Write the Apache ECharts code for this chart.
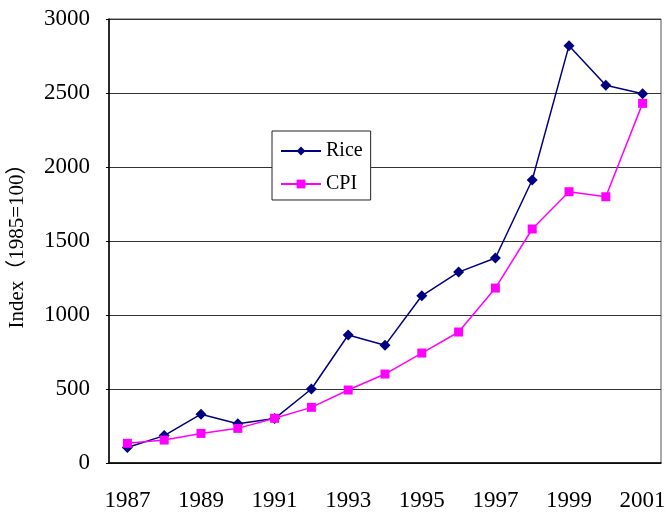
<!DOCTYPE html>
<html><head><meta charset="utf-8">
<script src="https://cdn.jsdelivr.net/npm/echarts@6/dist/echarts.min.js"></script>
<style>html,body{margin:0;padding:0;background:#fff}#c{width:666px;height:516px}</style>
</head><body><div id="c"></div>
<script>
var years = ['1987','1988','1989','1990','1991','1992','1993','1994','1995','1996','1997','1998','1999','2000','2001'];
var rice = [105,185,330,265,300,500,865,795,1130,1290,1385,1912,2820,2552,2495];
var cpi = [133,155,200,234,302,376,493,601,743,885,1182,1581,1833,1799,2430];
var yTicks = [0,500,1000,1500,2000,2500,3000];
var font = "'Liberation Serif','Noto Sans CJK SC',serif";
var chart = echarts.init(document.getElementById('c'));
chart.setOption({
  animation:false,
  backgroundColor:'#fff',
  grid:{left:109,right:5,top:19,bottom:53,show:true,borderColor:'#555',borderWidth:1,
        containLabel:false,outerBoundsMode:'none'},
  legend:{
    left:272, top:131, orient:'vertical',
    borderColor:'#222', borderWidth:1, backgroundColor:'#fff',
    padding:[10,8,6,8], itemGap:13, itemWidth:40, itemHeight:11,
    textStyle:{fontFamily:font,fontSize:20,color:'#000'},
    data:['Rice','CPI']
  },
  xAxis:{
    type:'category', data:years, boundaryGap:true,
    axisLine:{lineStyle:{color:'#000',width:1.5}},
    axisTick:{inside:true,length:7,interval:0,lineStyle:{color:'#000'}},
    axisLabel:{interval:1,fontFamily:font,fontSize:23,color:'#000',margin:26}
  },
  yAxis:{
    type:'value', min:0, max:3000, interval:500,
    name:'Index（1985=100）', nameLocation:'middle', nameGap:81,
    nameTextStyle:{fontFamily:font,fontSize:21,color:'#000'},
    axisLine:{show:true,lineStyle:{color:'#000',width:1.5}},
    axisTick:{show:true,length:3,lineStyle:{color:'#000'}},
    axisLabel:{fontFamily:font,fontSize:23,color:'#000',margin:19,
      formatter:function(v){return yTicks.indexOf(v)>=0?String(v):'';}},
    splitLine:{show:true,lineStyle:{color:'#333',width:1}}
  },
  series:[
    {name:'Rice',type:'line',data:rice,symbol:'diamond',symbolSize:11,
     itemStyle:{color:'#000080'},lineStyle:{color:'#000080',width:1.5}},
    {name:'CPI',type:'line',data:cpi,symbol:'rect',symbolSize:9,
     itemStyle:{color:'#FF00FF'},lineStyle:{color:'#FF00FF',width:1.5}}
  ]
});
</script></body></html>
